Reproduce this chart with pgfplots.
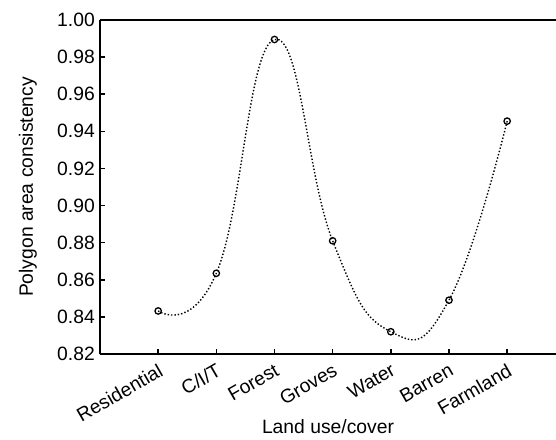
\documentclass[border=0pt]{standalone}
\usepackage{pgfplots}
\pgfplotsset{compat=1.18}
\usepackage{fontspec}
\setmainfont{Liberation Sans}
\begin{document}
\fontsize{19.3}{22}\selectfont
\begin{tikzpicture}
\begin{axis}[
  name=ax,
  at={(0,0)}, anchor=south west,
  scale only axis,
  width=456pt, height=334pt,
  xmin=-1, xmax=6.84,
  ymin=0.82, ymax=1.00,
  axis x line*=bottom, axis y line*=left,
  axis line style={line width=1.6pt, -},
  xtick={0,1,2,3,4,5,6},
  xticklabels={Residential,C/I/T,Forest,Groves,Water,Barren,Farmland},
  x tick label style={rotate=30, anchor=north east, inner sep=0pt, yshift=-7pt, xshift=-5pt},
  ytick={0.82,0.84,...,1.001},
  yticklabel style={/pgf/number format/fixed, /pgf/number format/fixed zerofill, /pgf/number format/precision=2, inner sep=0pt, xshift=-5pt},
  /pgf/number format/assume math mode=true,
  tick align=inside,
  major tick length=5pt,
  tick style={line width=1.6pt, black},
  xlabel={Land use/cover},
  ylabel={Polygon area consistency},
  xlabel style={at={(rel axis cs:0.5,0)}, anchor=base, yshift=-79pt},
  ylabel style={at={(rel axis cs:0,0.5)}, anchor=center, yshift=72pt},
  clip=false,
]
\addplot[black, line width=1.4pt, dotted, smooth, tension=0.8,
  mark=o, mark size=3.2pt, mark options={solid, line width=1.3pt}]
  coordinates {(0,0.8432) (1,0.8635) (2,0.9895) (3,0.881) (4,0.832) (5,0.849) (6,0.9455)};
\draw[line width=1.6pt] (rel axis cs:0,1) -- (rel axis cs:1,1);
\end{axis}
\pgfresetboundingbox
\useasboundingbox (-100pt,-85pt) rectangle (456pt,354pt);
\end{tikzpicture}
\end{document}
